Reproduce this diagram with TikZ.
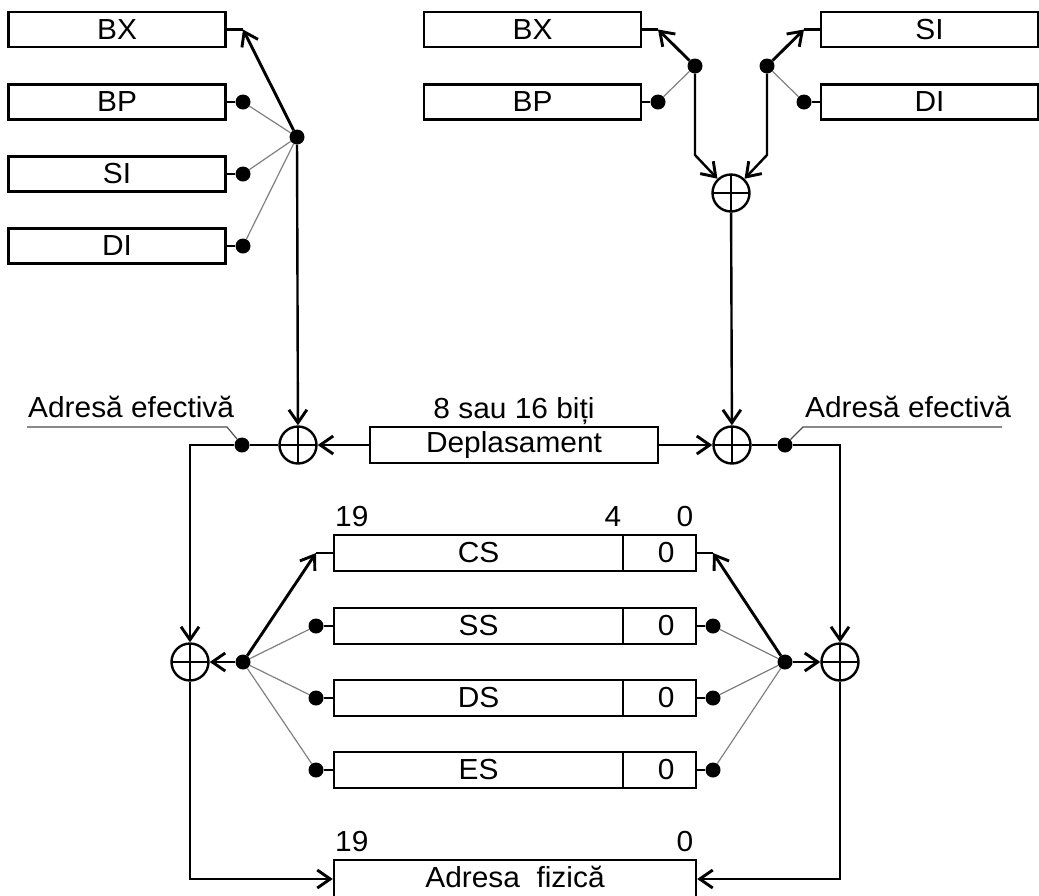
\documentclass[tikz,border=0pt]{standalone}
\usepackage{fontspec}
\setmainfont{Liberation Sans}[FakeStretch=1.03]
\usetikzlibrary{arrows.meta,calc}
\begin{document}
\begin{tikzpicture}[x=1pt,y=-1pt,
  every node/.style={font=\fontsize{29}{33}\selectfont},
  reg/.style={draw,line width=2.4pt,rectangle,inner sep=0pt,minimum height=35,minimum width=217},
  seg/.style={draw,line width=2.4pt,rectangle,inner sep=0pt,minimum height=36,minimum width=289},
  segz/.style={draw,line width=2.4pt,rectangle,inner sep=0pt,minimum height=36,minimum width=73,text width=30,align=right},
  adder/.style={circle,draw,line width=2.4pt,minimum size=37,inner sep=0pt,
    path picture={\draw[line width=2.4pt] (path picture bounding box.north)--(path picture bounding box.south)
      (path picture bounding box.west)--(path picture bounding box.east);}},
  dot/.style={circle,fill,inner sep=0pt,minimum size=15},
  arr/.style={line width=2.9pt,-{Straight Barb[length=13pt,width=18pt,line width=2.9pt]}},
  warr/.style={line width=2.4pt,-{Straight Barb[length=13pt,width=18pt,line width=2.9pt]}},
  wire/.style={line width=2.4pt},
  sw/.style={gray,line width=1.2pt},
  lbl/.style={inner sep=0pt}]
\useasboundingbox (0,0) rectangle (1039,895);
\clip (0,0) rectangle (1039,895);

% ---------- top left ----------
\node[reg] (bx1) at (117,29.5) {BX};
\node[reg] (bp1) at (117,102) {BP};
\node[reg] (si1) at (117,174) {SI};
\node[reg] (di1) at (117,246) {DI};
\coordinate (tbx1) at (243,29.5);
\node[dot] (dbp1) at (243,102) {};
\node[dot] (dsi1) at (243,174) {};
\node[dot] (ddi1) at (243,246) {};
\node[dot] (p1) at (297,137) {};
\draw[wire] (bx1.east) -- (tbx1);
\draw[wire] (bp1.east) -- (dbp1);
\draw[wire] (si1.east) -- (dsi1);
\draw[wire] (di1.east) -- (ddi1);
\draw[sw] (p1) -- (dbp1);
\draw[sw] (p1) -- (dsi1);
\draw[sw] (p1) -- (ddi1);
\draw[arr] (p1) -- (tbx1);

% ---------- top right ----------
\node[reg] (bx2) at (532.5,29.5) {BX};
\node[reg] (bp2) at (532.5,102) {BP};
\node[reg] (si2) at (929.5,29.5) {SI};
\node[reg] (di2) at (929.5,102) {DI};
\coordinate (tbx2) at (658,29.5);
\node[dot] (dbp2) at (658,102) {};
\node[dot] (p2) at (695,66) {};
\coordinate (tsi2) at (804,29.5);
\node[dot] (ddi2) at (804,102) {};
\node[dot] (p3) at (767,66) {};
\draw[wire] (bx2.east) -- (tbx2);
\draw[wire] (bp2.east) -- (dbp2);
\draw[wire] (si2.west) -- (tsi2);
\draw[wire] (di2.west) -- (ddi2);
\draw[sw] (p2) -- (dbp2);
\draw[sw] (p3) -- (ddi2);
\draw[arr] (p2) -- (tbx2);
\draw[arr] (p3) -- (tsi2);
\node[adder] (c0) at (731,193) {};
\coordinate (k2) at (695,155);
\coordinate (k3) at (767,155);
\draw[warr] (p2) -- (k2) -- (c0);
\draw[warr] (p3) -- (k3) -- (c0);

% ---------- middle ----------
\node[adder] (c1) at (298,445) {};
\node[adder] (c2) at (732,445) {};
\draw[warr] (p1) -- (c1);
\draw[warr] (c0) -- (c2);
\node[draw,line width=2.4pt,inner sep=0pt,minimum width=288,minimum height=36] (dep) at (514,445) {Deplasament};
\node[lbl,anchor=base] (bits) at (514,418) {8 sau 16 biți};
\draw[warr] (dep.west) -- (c1);
\draw[warr] (dep.east) -- (c2);
\node[dot] (d1) at (242,445) {};
\node[dot] (d2) at (785,445) {};
\coordinate (e1) at (190,445);
\coordinate (e2) at (840,445);
\draw[wire] (c1.west) -- (d1);
\draw[wire] (c2.east) -- (d2);

\node[lbl,anchor=base west] (ae1) at (28,417) {Adresă efectivă};
\coordinate (u1a) at (27,427);
\coordinate (u1b) at (227,427);
\draw[sw,black!70] (u1a) -- (u1b) -- (d1);
\node[lbl,anchor=base west] (ae2) at (805,417) {Adresă efectivă};
\coordinate (u2a) at (1002,427);
\coordinate (u2b) at (803,427);
\draw[sw,black!70] (u2a) -- (u2b) -- (d2);

% ---------- segment registers ----------
\node[seg] (cs) at (478.5,553) {CS};
\node[segz] (cs0) at (659.5,553) {0};
\node[seg] (ss) at (478.5,626) {SS};
\node[segz] (ss0) at (659.5,626) {0};
\node[seg] (ds) at (478.5,698) {DS};
\node[segz] (ds0) at (659.5,698) {0};
\node[seg] (es) at (478.5,770) {ES};
\node[segz] (es0) at (659.5,770) {0};
\node[lbl,anchor=base west] (n19a) at (335,526) {19};
\node[lbl,anchor=base] (n4) at (613,526) {4};
\node[lbl,anchor=base] (n0a) at (685,526) {0};

\coordinate (tcsl) at (316,553);
\node[dot] (dssl) at (316,626) {};
\node[dot] (ddsl) at (316,698) {};
\node[dot] (desl) at (316,770) {};
\coordinate (tcsr) at (713,553);
\node[dot] (dssr) at (713,626) {};
\node[dot] (ddsr) at (713,698) {};
\node[dot] (desr) at (713,770) {};
\draw[wire] (cs.west) -- (tcsl);
\draw[wire] (ss.west) -- (dssl);
\draw[wire] (ds.west) -- (ddsl);
\draw[wire] (es.west) -- (desl);
\draw[wire] (cs0.east) -- (tcsr);
\draw[wire] (ss0.east) -- (dssr);
\draw[wire] (ds0.east) -- (ddsr);
\draw[wire] (es0.east) -- (desr);

\node[dot] (p4) at (243,662) {};
\node[dot] (p5) at (785,662) {};
\node[adder] (c3) at (190,662) {};
\node[adder] (c4) at (840,662) {};
\draw[sw] (p4) -- (dssl);
\draw[sw] (p4) -- (ddsl);
\draw[sw] (p4) -- (desl);
\draw[sw] (p5) -- (dssr);
\draw[sw] (p5) -- (ddsr);
\draw[sw] (p5) -- (desr);
\draw[arr] (p4) -- (tcsl);
\draw[arr] (p5) -- (tcsr);
\draw[warr] (p4) -- (c3);
\draw[warr] (p5) -- (c4);
\draw[warr] (d1) -- (e1) -- (c3);
\draw[warr] (d2) -- (e2) -- (c4);

% ---------- physical address ----------
\node[draw,line width=2.4pt,inner sep=0pt,minimum width=362,minimum height=40] (phys) at (515,880) {};
\node[lbl,anchor=base] (physt) at (515,887) {Adresa\ \ fizică};
\node[lbl,anchor=base west] (n19b) at (335,851) {19};
\node[lbl,anchor=base] (n0b) at (685,851) {0};
\coordinate (b3) at (190,879);
\coordinate (b4) at (840,879);
\draw[warr] (c3) -- (b3) -- (b3 -| phys.west);
\draw[warr] (c4) -- (b4) -- (b4 -| phys.east);
\end{tikzpicture}
\end{document}
